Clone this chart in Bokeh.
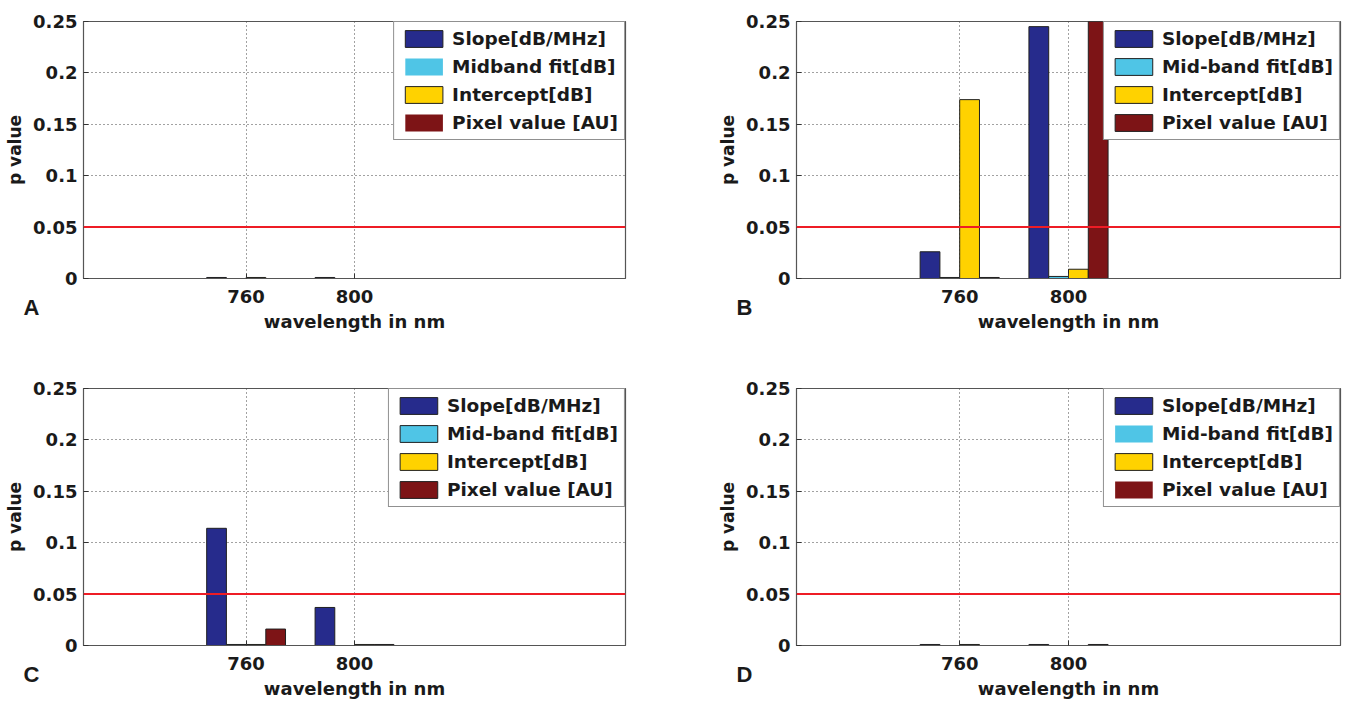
from bokeh.plotting import figure
from bokeh.models import (Range1d, FixedTicker, NumeralTickFormatter, Span, Legend,
                          LegendItem, Title, ColumnDataSource)
from bokeh.layouts import column, row
from bokeh.embed import file_html
from bokeh.resources import INLINE

# ---------------- data ----------------
wavelengths = [760, 800]
labels_a = ["Slope[dB/MHz]", "Midband fit[dB]", "Intercept[dB]", "Pixel value [AU]"]
labels_b = ["Slope[dB/MHz]", "Mid-band fit[dB]", "Intercept[dB]", "Pixel value [AU]"]
labels_cd = ["Slope[dB/MHz]", "Mid-band fit[dB]", "Intercept[dB]", "Pixel value [AU]"]

# panel A
a_slope = [0.001, 0.001]
a_midband = [0.0, 0.0]
a_intercept = [0.001, 0.0]
a_pixel = [0.0, 0.0]
# panel B
b_slope = [0.026, 0.245]
b_midband = [0.001, 0.002]
b_intercept = [0.174, 0.009]
b_pixel = [0.001, 0.30]
# panel C
c_slope = [0.114, 0.037]
c_midband = [0.001, 0.0]
c_intercept = [0.001, 0.001]
c_pixel = [0.016, 0.001]
# panel D
d_slope = [0.001, 0.001]
d_midband = [0.0, 0.0]
d_intercept = [0.001, 0.0]
d_pixel = [0.0, 0.001]

threshold = 0.05
y_ticks = [0, 0.05, 0.1, 0.15, 0.2, 0.25]
x_ticks = [760, 800]
x_limits = (700, 900)
y_limits = (0, 0.25)
x_title = "wavelength in nm"
y_title = "p value"

# ---------------- style ----------------
COLORS = ["#262B8C", "#4FC5E6", "#FFD200", "#7D1416"]
FONT = "DejaVu Sans"
TXT = "#1a1a1a"


def make_panel(letter, series, names, left, right, top, bottom, fw, fh, letter_offset, lmargin):
    p = figure(frame_width=fw, frame_height=fh, min_border_left=left, min_border_right=right,
               min_border_top=top, min_border_bottom=bottom,
               x_range=Range1d(*x_limits), y_range=Range1d(*y_limits),
               output_backend="svg", toolbar_location=None, tools="")
    p.outline_line_color = "#555555"
    p.outline_line_width = 1.2
    p.background_fill_color = "white"
    p.border_fill_color = "white"

    n = len(series)
    spacing = wavelengths[1] - wavelengths[0]
    group_w = spacing * min(0.8, n / (n + 1.5))
    bar_w = group_w / n
    renderers = []
    for i, vals in enumerate(series):
        off = -group_w / 2 + bar_w * (i + 0.5)
        src = ColumnDataSource(dict(
            x=[w + off for w in wavelengths],
            top=vals,
            la=[1.0 if v > 0 else 0.0 for v in vals],
        ))
        r = p.vbar(x="x", top="top", bottom=0, width=bar_w, source=src,
                   fill_color=COLORS[i], line_color="#202020", line_width=1,
                   line_alpha="la")
        renderers.append(r)

    p.add_layout(Span(location=threshold, dimension="width", line_color="#EE1C25", line_width=2))

    p.xaxis.ticker = FixedTicker(ticks=x_ticks)
    p.yaxis.ticker = FixedTicker(ticks=y_ticks)
    p.yaxis.formatter = NumeralTickFormatter(format="0.[00]")
    for ax in (p.xaxis[0], p.yaxis[0]):
        ax.major_tick_in = 5
        ax.major_tick_out = 0
        ax.minor_tick_in = 0
        ax.minor_tick_out = 0
        ax.axis_line_color = "#555555"
        ax.major_tick_line_color = "#333333"
        ax.major_label_text_font = FONT
        ax.major_label_text_font_style = "bold"
        ax.major_label_text_font_size = "18px"
        ax.major_label_text_color = TXT
        ax.axis_label_text_font = FONT
        ax.axis_label_text_font_style = "bold"
        ax.axis_label_text_font_size = "17px"
        ax.axis_label_text_color = TXT
    p.yaxis.axis_label = y_title
    p.xaxis.major_label_standoff = 11
    p.yaxis.major_label_standoff = 6
    p.yaxis.axis_label_standoff = 5

    # panel letter and x-axis title, stacked below the tick labels
    p.add_layout(Title(text=letter, align="left", offset=letter_offset, vertical_align="top",
                       standoff=-22, text_font="Liberation Sans", text_font_style="bold",
                       text_font_size="22px", text_color=TXT), "below")
    p.add_layout(Title(text=x_title, align="center", vertical_align="top", standoff=0,
                       text_font=FONT, text_font_style="bold",
                       text_font_size="18px", text_color=TXT), "below")

    p.xgrid.ticker = FixedTicker(ticks=x_ticks)
    for g in (p.xgrid[0], p.ygrid[0]):
        g.grid_line_color = "#444444"
        g.grid_line_dash = "1 3"
        g.grid_line_width = 1

    legend = Legend(items=[LegendItem(label=nm, renderers=[r]) for nm, r in zip(names, renderers)],
                    location="top_right", margin=lmargin, padding=6, spacing=7,
                    glyph_width=47, glyph_height=21, label_height=21, label_standoff=5,
                    label_text_font=FONT, label_text_font_style="bold",
                    label_text_font_size="18.5px", label_text_color=TXT,
                    border_line_color="#222222", border_line_width=1,
                    background_fill_color="white", background_fill_alpha=1.0)
    p.add_layout(legend)
    return p


pa = make_panel("A", [a_slope, a_midband, a_intercept, a_pixel], labels_a,
                83, 8, 21, 62, 542, 257, -60, 0)
pb = make_panel("B", [b_slope, b_midband, b_intercept, b_pixel], labels_b,
                163, 5, 21, 62, 544, 257, -60, 0)
pc = make_panel("C", [c_slope, c_midband, c_intercept, c_pixel], labels_cd,
                83, 8, 48, 58, 542, 257, -60, 0)
pd = make_panel("D", [d_slope, d_midband, d_intercept, d_pixel], labels_cd,
                163, 5, 48, 58, 544, 257, -60, 0)

layout = column(row(pa, pb), row(pc, pd))
open("out.html", "w").write(file_html(layout, INLINE))
